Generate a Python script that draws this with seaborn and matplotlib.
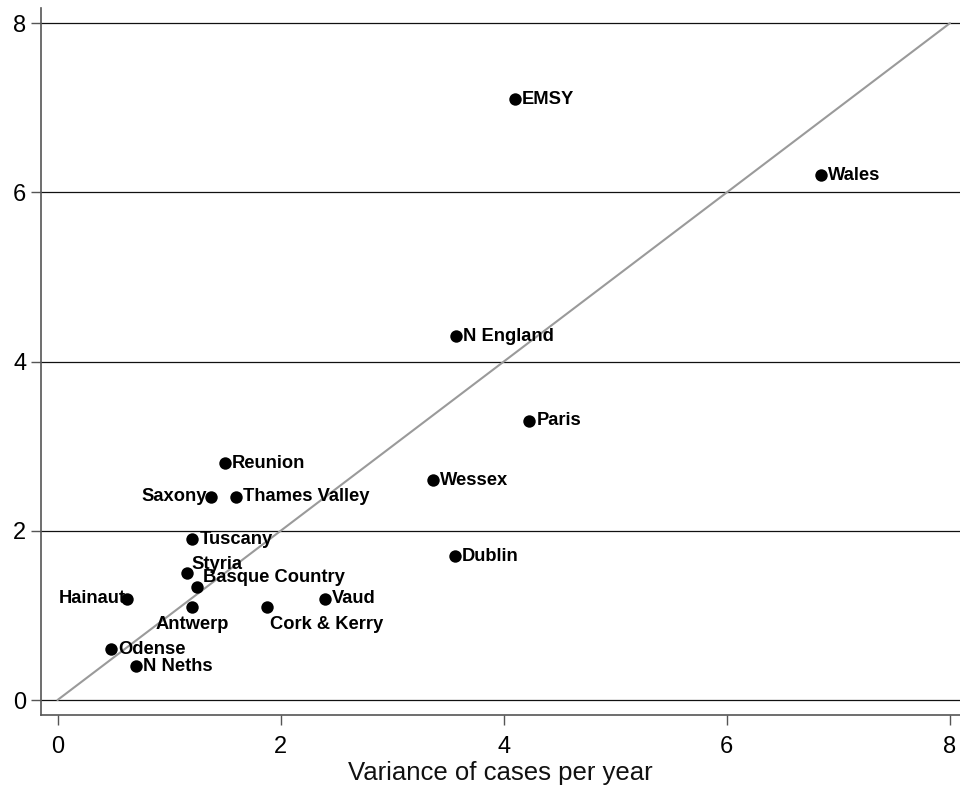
import matplotlib
matplotlib.use("Agg")
import matplotlib.pyplot as plt
import seaborn as sns
import pandas as pd

# Observed vs. variance of annual case counts by region
regions = ["EMSY", "Wales", "N England", "Paris", "Wessex", "Dublin",
           "Reunion", "Saxony", "Thames Valley", "Tuscany", "Styria",
           "Basque Country", "Hainaut", "Antwerp", "Cork & Kerry", "Vaud",
           "Odense", "N Neths"]
variance = [4.10, 6.84, 3.57, 4.23, 3.37, 3.56,
            1.50, 1.38, 1.60, 1.21, 1.16,
            1.25, 0.62, 1.21, 1.88, 2.40,
            0.48, 0.70]
mean_cases = [7.1, 6.2, 4.3, 3.3, 2.6, 1.7,
              2.8, 2.4, 2.4, 1.9, 1.5,
              1.34, 1.2, 1.1, 1.1, 1.2,
              0.6, 0.4]

ticks = [0, 2, 4, 6, 8]

df = pd.DataFrame({"region": regions, "variance": variance, "mean": mean_cases})
ref = pd.DataFrame({"x": [0, 8], "y": [0, 8]})

sns.set_theme(style="white")
plt.rcParams["font.family"] = ["Liberation Sans", "DejaVu Sans"]

fig = plt.figure(figsize=(9.6, 7.92), dpi=100)
ax = fig.add_axes([0.0427, 0.0972, 0.9573, 0.8928])

# horizontal grid at the y ticks
for t in ticks:
    ax.axhline(t, color="#111111", lw=0.9, zorder=0)

# line of equality
sns.lineplot(data=ref, x="x", y="y", color="#9a9a9a", lw=1.5, ax=ax, zorder=1)

sns.scatterplot(data=df, x="variance", y="mean", color="black", s=80,
                edgecolor="black", linewidth=0, ax=ax, zorder=3)

# label placement (offset in points, horizontal alignment)
placement = {
    "Saxony": ((-3.5, 0), "right", "center"),
    "Hainaut": ((-1, 0), "right", "center"),
    "Styria": ((3.5, 6), "left", "center"),
    "Basque Country": ((4, 6.5), "left", "center"),
    "Antwerp": ((0, -12.5), "center", "center"),
    "Cork & Kerry": ((2, -12.5), "left", "center"),
}
for name, x, y in zip(df["region"], df["variance"], df["mean"]):
    off, ha, va = placement.get(name, ((5, 0), "left", "center"))
    ax.annotate(name, (x, y), xytext=off, textcoords="offset points",
                ha=ha, va=va, fontsize=13.2, fontweight="bold",
                color="black", zorder=4)

ax.set_xlim(-0.148, 8.09)
ax.set_ylim(-0.177, 8.18)
ax.set_xticks(ticks)
ax.set_yticks(ticks)
ax.set_xticklabels([str(t) for t in ticks])
ax.set_yticklabels([str(t) for t in ticks])
ax.set_xlabel("Variance of cases per year", fontsize=18.5, labelpad=2, color="#111111")
ax.set_ylabel("")

for side in ["top", "right"]:
    ax.spines[side].set_visible(False)
for side in ["left", "bottom"]:
    ax.spines[side].set_color("#555555")
    ax.spines[side].set_linewidth(1.2)

ax.tick_params(axis="both", which="major", direction="out", color="#555555",
               width=1.0, labelsize=17, labelcolor="black")
ax.tick_params(axis="x", length=7, pad=8)
ax.tick_params(axis="y", length=7.5, pad=3)
ax.tick_params(bottom=True, left=True)

fig.savefig("out.png", dpi=100, facecolor="white")
